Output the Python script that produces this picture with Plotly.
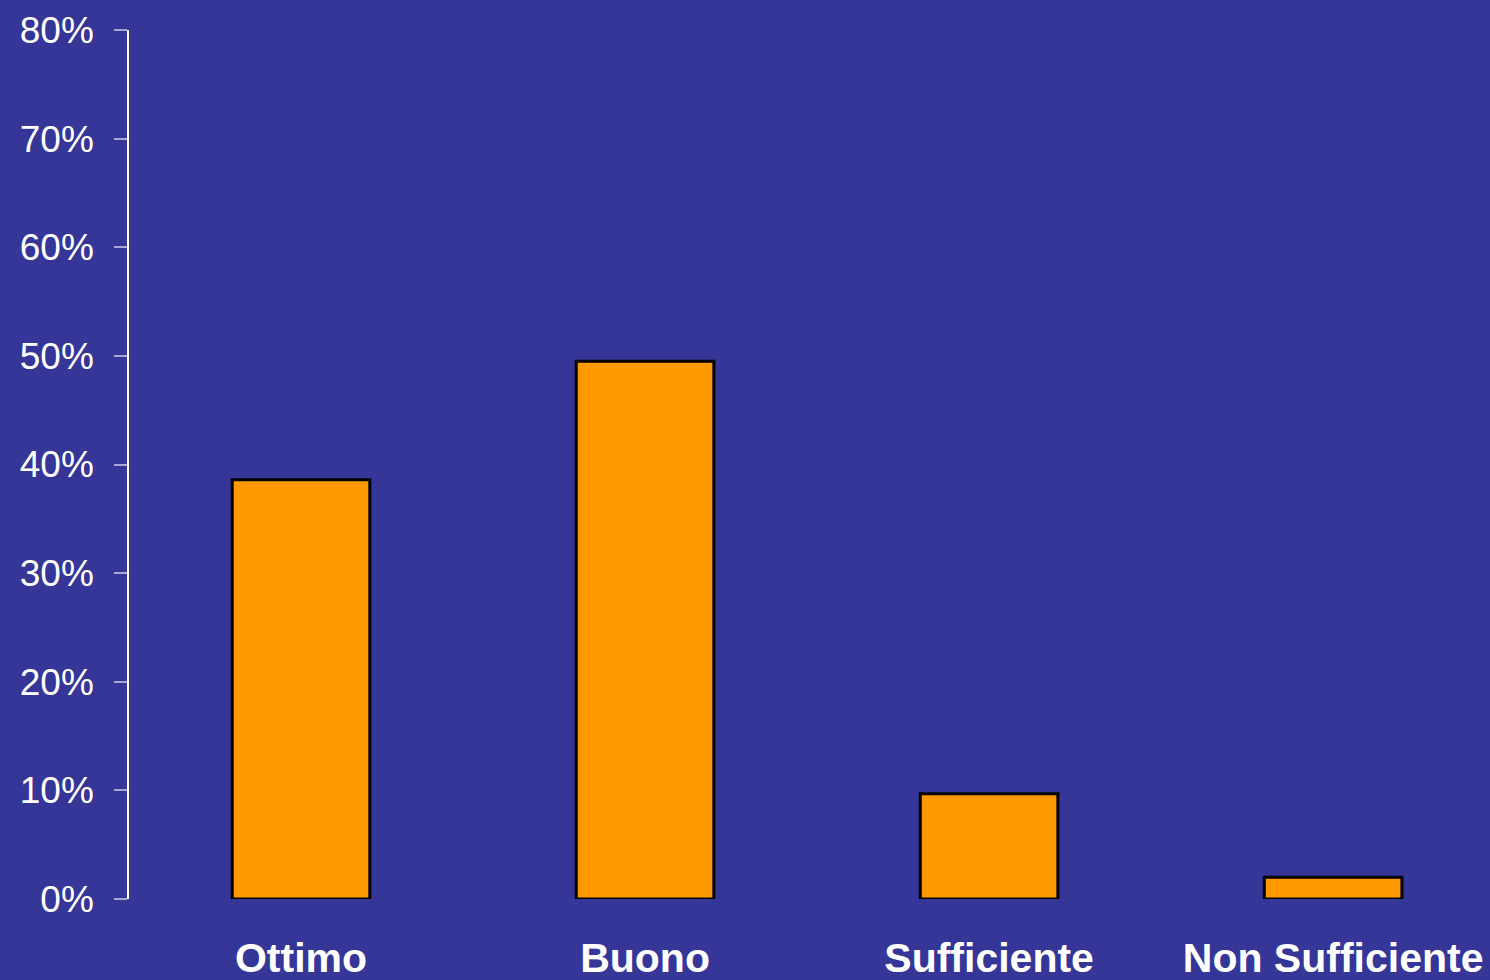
import plotly.graph_objects as go

categories = ["Ottimo", "Buono", "Sufficiente", "Non Sufficiente"]
values = [38.6, 49.5, 9.7, 2.0]
y_ticks = [0, 10, 20, 30, 40, 50, 60, 70, 80]

BG = "#363699"

fig = go.Figure(go.Bar(
    x=list(range(len(categories))),
    y=values,
    width=0.4,
    marker=dict(color="#FF9900", line=dict(color="#000000", width=3)),
))

fig.update_layout(
    width=1490, height=980,
    paper_bgcolor=BG, plot_bgcolor=BG,
    margin=dict(l=129, r=0, t=30, b=81),
    showlegend=False,
    font=dict(family="Liberation Sans, Arial, sans-serif", color="white"),
)
fig.update_xaxes(
    range=[-0.5, 3.456],
    tickmode="array", tickvals=list(range(len(categories))), ticktext=categories,
    showgrid=False, zeroline=False, showline=False,
    ticks="", ticklabelstandoff=31,
    tickfont=dict(size=41, color="white", family="Liberation Sans, Arial, sans-serif", weight="bold"),
)
fig.update_yaxes(
    range=[0, 80],
    tickmode="array", tickvals=y_ticks, ticktext=[f"{v}%" for v in y_ticks],
    showgrid=False, zeroline=False,
    showline=True, linecolor="white", linewidth=1.5,
    ticks="outside", ticklen=13, tickcolor="#A8A8D0", tickwidth=1.5,
    ticklabelstandoff=13,
    tickfont=dict(size=37, color="white"),
)

fig.write_html(
    "out.html",
    config={"displayModeBar": False},
    post_script="document.body.style.margin='0';document.body.style.overflow='hidden';document.body.style.background='" + BG + "';",
)
